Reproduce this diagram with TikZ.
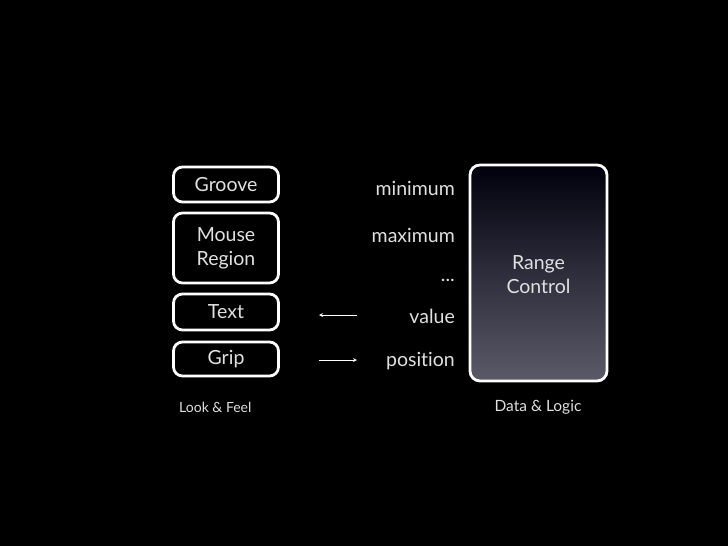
\documentclass[tikz,border=0pt]{standalone}
\usepackage{fontspec}
\setmainfont{Lato}[Ligatures={NoCommon}]
\begin{document}
\begin{tikzpicture}[x=1pt,y=-1pt,
  txt/.style={text=white!88!black, font=\fontsize{19.5}{24}\selectfont},
  part/.style={draw=white, line width=2.8pt, rounded corners=9pt, minimum width=105pt, align=center, inner sep=0pt, txt},
  lbl/.style={txt, anchor=east, inner sep=0pt},
  caption/.style={text=white!88!black, font=\fontsize{14}{16}\selectfont, inner sep=0pt},
  arr/.style={draw=white, line width=0.8pt, ->, >=stealth}]
\fill[black] (0,0) rectangle (728,546);
\useasboundingbox (0,0) rectangle (728,546);
\node[part, minimum height=35pt] (groove) at (226,184.5) {Groove};
\node[part, minimum height=70pt] (mouse) at (226,248) {Mouse\\Region};
\node[part, minimum height=36pt] (text) at (226,312) {Text};
\node[part, minimum height=34pt] (grip) at (226,359) {Grip};
\node[caption, anchor=west] (lf) at (179,407) {Look \& Feel};
\shade[top color=black!95!blue, bottom color={rgb,255:red,90;green,90;blue,105}, rounded corners=10pt] (470,165) rectangle (607,381);
\node[draw=white, line width=2.8pt, rounded corners=10pt, minimum width=137pt, minimum height=216pt, inner sep=0pt] (range) at (538.5,273) {};
\node[txt, align=center] (rc) at (538.5,275) {Range\\Control};
\node[caption, font=\fontsize{15.5}{17}\selectfont] (dl) at (538,407) {Data \& Logic};
\node[lbl] (min) at (455,188) {minimum};
\node[lbl] (max) at (455,235) {maximum};
\node[lbl] (dots) at (455,280) {...};
\node[lbl] (val) at (455,316) {value};
\node[lbl] (pos) at (455,361) {position};
\coordinate (a1s) at (357,315);
\coordinate (a1e) at (319,315);
\coordinate (a2s) at (319,360);
\coordinate (a2e) at (357,360);
\draw[arr] (a1s) -- (a1e);
\draw[arr] (a2s) -- (a2e);
\end{tikzpicture}
\end{document}
